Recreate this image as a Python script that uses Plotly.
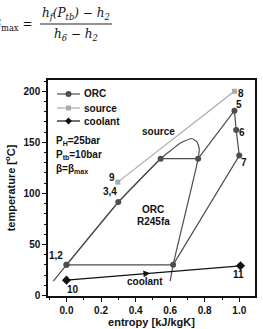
import plotly.graph_objects as go

# ---------------- data ----------------
orc_s = [0.0, 0.30, 0.545, 0.762, 0.972, 0.982, 1.0, 0.617, 0.0]
orc_T = [30, 91.5, 134, 134, 181, 162, 137, 30, 30]

source_s = [0.297, 0.972]
source_T = [111, 200]

coolant_s = [0.0, 1.007]
coolant_T = [15, 29]

dome_s = [-0.076, 0.0, 0.30, 0.545, 0.60, 0.657, 0.724, 0.755, 0.768, 0.762, 0.617, 0.60]
dome_T = [14, 30, 91.5, 134, 141.5, 149, 153.7, 150.5, 144, 134, 30, 14]

point_labels = ["1,2", "3,4", "5", "6", "7", "8", "9", "10", "11"]
point_s = [0.0, 0.30, 0.972, 0.982, 1.0, 0.972, 0.297, 0.0, 1.007]
point_T = [30, 91.5, 181, 162, 137, 200, 111, 15, 29]

# arrows: (segment index, fraction along segment)
orc_arrows = [(0, 0.62), (1, 0.50), (2, 0.55), (3, 0.45), (5, 0.55), (6, 0.40), (7, 0.40)]
source_arrows = [(0, 0.55)]
coolant_arrows = [(0, 0.48)]

x_ticks = [0.0, 0.2, 0.4, 0.6, 0.8, 1.0]
x_tick_text = ["0.0", "0.2", "0.4", "0.6", "0.8", "1.0"]
y_ticks = [0, 50, 100, 150, 200]

legend_names = ["ORC", "source", "coolant"]

# ---------------- style ----------------
W, H = 263, 329
L, R, T, B = 48, 8, 80, 33
C_ORC = "#4d4d4d"
C_SRC = "#a9a9a9"
C_COOL = "#111111"
FONT = "Liberation Sans, Arial, sans-serif"


def px2paper(px, py):
    return (px - L) / (W - L - R), (H - B - py) / (H - T - B)


fig = go.Figure()

fig.add_trace(go.Scatter(x=dome_s, y=dome_T, mode="lines",
                         line=dict(color=C_ORC, width=1.2, shape="spline", smoothing=0.5),
                         showlegend=False, hoverinfo="skip"))
fig.add_trace(go.Scatter(x=orc_s, y=orc_T, mode="lines+markers", name="ORC", showlegend=False,
                         line=dict(color=C_ORC, width=1.2),
                         marker=dict(symbol="circle", size=6, color=C_ORC)))
fig.add_trace(go.Scatter(x=source_s, y=source_T, mode="lines+markers", name="source", showlegend=False,
                         line=dict(color=C_SRC, width=1.2),
                         marker=dict(symbol="square", size=5, color=C_SRC)))
fig.add_trace(go.Scatter(x=coolant_s, y=coolant_T, mode="lines+markers", name="coolant", showlegend=False,
                         line=dict(color=C_COOL, width=1.2),
                         marker=dict(symbol="diamond", size=7, color=C_COOL)))

annotations = []
shapes = []


def add_arrows(xs, ys, arrows, color):
    for idx, t in arrows:
        x0, y0, x1, y1 = xs[idx], ys[idx], xs[idx + 1], ys[idx + 1]
        hx = x0 + (x1 - x0) * t
        hy = y0 + (y1 - y0) * t
        tx = x0 + (x1 - x0) * (t - 0.02)
        ty = y0 + (y1 - y0) * (t - 0.02)
        annotations.append(dict(x=hx, y=hy, ax=tx, ay=ty, xref="x", yref="y", axref="x", ayref="y",
                                text="", showarrow=True, arrowhead=2, arrowsize=1.1, arrowwidth=1.2,
                                arrowcolor=color))


add_arrows(orc_s, orc_T, orc_arrows, C_ORC)
add_arrows(source_s, source_T, source_arrows, C_SRC)
add_arrows(coolant_s, coolant_T, coolant_arrows, C_COOL)

# point labels: pixel offsets (right, down)
label_off = {"1,2": (-10, -9), "3,4": (-8, -11), "5": (5, -6), "6": (6, 2), "7": (5, 7),
             "8": (7, 2), "9": (-6, -5), "10": (7, 9), "11": (-2, 9)}
for lab, s, t in zip(point_labels, point_s, point_T):
    dx, dy = label_off[lab]
    annotations.append(dict(x=s, y=t, xref="x", yref="y", text=lab, showarrow=False,
                            xshift=dx, yshift=-dy,
                            font=dict(family=FONT, size=10, color="#111", weight="bold")))


def txt(px, py, text, size=10, anchor="center", family=FONT, weight="bold", italic=False):
    x, y = px2paper(px, py)
    annotations.append(dict(x=x, y=y, xref="paper", yref="paper", text=text, showarrow=False,
                            xanchor=anchor, yanchor="middle",
                            font=dict(family=family, size=size, color="#111", weight=weight,
                                      style="italic" if italic else "normal")))


txt(158, 131, "source")
txt(153, 209, "ORC")
txt(153, 221, "R245fa")
txt(145, 281, "coolant")
txt(54, 141, "P<sub>H</sub>=25bar", anchor="left")
txt(54, 155, "P<sub>tb</sub>=10bar", anchor="left")
txt(54, 169, "β=β<sub>max</sub>", anchor="left")

# manual legend (line sample + marker + label)
leg_colors = [C_ORC, C_SRC, C_COOL]
leg_y = [94, 108, 121]
for i, (name, col, ly) in enumerate(zip(legend_names, leg_colors, leg_y)):
    ax_, ay_ = px2paper(68.5, ly)
    shapes.append(dict(type="line", xref="paper", yref="paper", xsizemode="pixel", ysizemode="pixel",
                       xanchor=ax_, yanchor=ay_, x0=-11.5, x1=11.5, y0=0, y1=0,
                       line=dict(color=col, width=1.2)))
    if i == 0:
        shapes.append(dict(type="circle", xref="paper", yref="paper", xsizemode="pixel", ysizemode="pixel",
                           xanchor=ax_, yanchor=ay_, x0=-3, x1=3, y0=-3, y1=3,
                           fillcolor=col, line=dict(width=0)))
    elif i == 1:
        shapes.append(dict(type="rect", xref="paper", yref="paper", xsizemode="pixel", ysizemode="pixel",
                           xanchor=ax_, yanchor=ay_, x0=-2.5, x1=2.5, y0=-2.5, y1=2.5,
                           fillcolor=col, line=dict(width=0)))
    else:
        shapes.append(dict(type="path", xref="paper", yref="paper", xsizemode="pixel", ysizemode="pixel",
                           xanchor=ax_, yanchor=ay_, path="M -3.5 0 L 0 3.5 L 3.5 0 L 0 -3.5 Z",
                           fillcolor=col, line=dict(width=0)))
    txt(82, ly, name, anchor="left")

SERIF = "DejaVu Serif, Liberation Serif, serif"
txt(34, 25, "β<sub><span style='font-style:normal'>max</span></sub> =", size=12, anchor="right",
    family=SERIF, weight="normal", italic=True)
txt(76, 14, "h<sub>f</sub>(P<sub>tb</sub>) − h<sub>2</sub>", size=12, family=SERIF, weight="normal", italic=True)
txt(76, 35, "h<sub>6</sub> − h<sub>2</sub>", size=12, family=SERIF, weight="normal", italic=True)

fx0, fy = px2paper(40, 24)
fx1, _ = px2paper(112, 24)
shapes.append(dict(type="line", xref="paper", yref="paper", x0=fx0, x1=fx1, y0=fy, y1=fy,
                   line=dict(color="#222", width=1)))

axis_common = dict(showline=True, linecolor="#111", linewidth=1.5, mirror=True, ticks="outside",
                   ticklen=4, tickwidth=1.2, tickcolor="#111", showgrid=False, zeroline=False,
                   automargin=False,
                   tickfont=dict(family=FONT, size=10, color="#111", weight="bold"))

fig.update_layout(
    width=W, height=H, margin=dict(l=L, r=R, t=T, b=B),
    paper_bgcolor="white", plot_bgcolor="white", showlegend=False,
    xaxis=dict(range=[-0.107, 1.091], tickmode="array", tickvals=x_ticks, ticktext=x_tick_text,
               minor=dict(tickmode="array", tickvals=[-0.1, 0.1, 0.3, 0.5, 0.7, 0.9], ticks="outside",
                          ticklen=2.5, tickcolor="#111"),
               title=dict(text="entropy [kJ/kgK]", standoff=4,
                          font=dict(family=FONT, size=11, color="#111", weight="bold")),
               **axis_common),
    yaxis=dict(range=[-0.5, 211], tickmode="array", tickvals=y_ticks,
               minor=dict(dtick=10, ticks="outside", ticklen=2.5, tickcolor="#111"),
               title=dict(text="temperature [<sup>o</sup>C]", standoff=6,
                          font=dict(family=FONT, size=11, color="#111", weight="bold")),
               **axis_common),
    annotations=annotations, shapes=shapes,
)

fig.write_html("out.html")
